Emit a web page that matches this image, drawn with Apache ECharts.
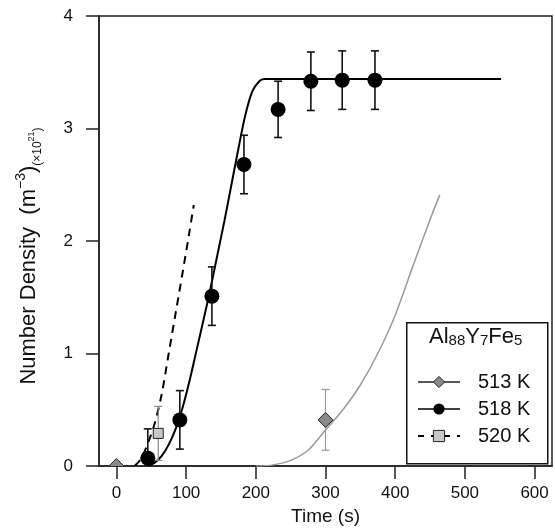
<!DOCTYPE html>
<html>
<head>
<meta charset="utf-8">
<script src="https://cdn.jsdelivr.net/npm/echarts@6/dist/echarts.min.js"></script>
<style>
  html, body { margin: 0; padding: 0; background: #fff; }
  #chart { width: 555px; height: 532px; }
</style>
</head>
<body>
<div id="chart"></div>
<script>
// measured points (time in s, density in 1e21 m^-3)
const t513 = [0, 300]
const n513 = [0.0, 0.41]
const e513 = [0, 0.27]

const t518 = [45, 91, 137, 183, 232, 279, 324, 371]
const n518 = [0.07, 0.41, 1.51, 2.68, 3.17, 3.42, 3.43, 3.43]
const e518 = [0.26, 0.26, 0.26, 0.26, 0.25, 0.26, 0.26, 0.26]

const t520 = [60]
const n520 = [0.29]
const e520 = [0.24]

// fitted curves
const fit513T = [200, 225, 250, 275, 300, 325, 350, 375, 400, 425, 450, 464]
const fit513N = [0, 0.01, 0.05, 0.14, 0.32, 0.5, 0.72, 1.0, 1.34, 1.77, 2.19, 2.41]

const fit518T = [45, 55, 65, 75, 85, 95, 105, 115, 125, 135, 145, 155, 165, 175, 185, 195, 205, 212, 552]
const fit518N = [0, 0.03, 0.09, 0.19, 0.33, 0.52, 0.76, 1.03, 1.3, 1.58, 1.88, 2.18, 2.5, 2.82, 3.12, 3.33, 3.42, 3.44, 3.44]

const fit520T = [26, 35, 45, 55, 65, 75, 85, 95, 105, 111]
const fit520N = [0, 0.06, 0.2, 0.38, 0.64, 1.0, 1.36, 1.72, 2.09, 2.32]

const xTicks = [0, 100, 200, 300, 400, 500, 600]

const FONT = 'Liberation Sans, Arial, sans-serif'
const zip = (a, b) => a.map((v, i) => [v, b[i]])
const errData = (t, n, e) => t.map((v, i) => [v, n[i] - e[i], n[i] + e[i]]).filter((d, i) => e[i] > 0)

function errorBar(color, width) {
  return function (params, api) {
    const lo = api.coord([api.value(0), api.value(1)])
    const hi = api.coord([api.value(0), api.value(2)])
    const cap = 4
    const style = { stroke: color, lineWidth: width }
    return {
      type: 'group',
      children: [
        { type: 'line', shape: { x1: lo[0], y1: lo[1], x2: hi[0], y2: hi[1] }, style },
        { type: 'line', shape: { x1: hi[0] - cap, y1: hi[1], x2: hi[0] + cap, y2: hi[1] }, style },
        { type: 'line', shape: { x1: lo[0] - cap, y1: lo[1], x2: lo[0] + cap, y2: lo[1] }, style }
      ]
    }
  }
}

// diamond marker drawn as custom shape so it is clipped by the plot area
function diamond(params, api) {
  const p = api.coord([api.value(0), api.value(1)])
  const r = 7.5
  return {
    type: 'polygon',
    shape: { points: [[p[0], p[1] - r], [p[0] + r, p[1]], [p[0], p[1] + r], [p[0] - r, p[1]]] },
    style: { fill: '#8a8a8a', stroke: '#222', lineWidth: 1 }
  }
}

const chart = echarts.init(document.getElementById('chart'))

const option = {
  animation: false,
  textStyle: { fontFamily: FONT },
  grid: {
    left: 99, right: 3, top: 16, bottom: 66,
    show: true, borderColor: '#222', borderWidth: 1.5
  },
  xAxis: {
    type: 'value',
    min: -25, max: 625,
    name: 'Time (s)',
    nameLocation: 'middle',
    nameGap: 32,
    nameTextStyle: { fontSize: 19, color: '#111', fontFamily: FONT },
    axisLine: { show: true, onZero: false, lineStyle: { color: '#222', width: 1.5 } },
    axisTick: { show: true, customValues: xTicks, length: 13, lineStyle: { color: '#222', width: 1.5 } },
    axisLabel: { customValues: xTicks, fontSize: 17, color: '#111', margin: 19, fontFamily: FONT },
    splitLine: { show: false }
  },
  yAxis: {
    type: 'value',
    min: 0, max: 4, interval: 1,
    name: 'Number Density  (m{sup|−3}){sub|(×10}{sup2|21}{sub|)}',
    nameLocation: 'middle',
    nameRotate: 90,
    nameGap: 55,
    nameTextStyle: {
      fontSize: 22, color: '#111', fontFamily: FONT, lineHeight: 30, padding: [0, 30, 0, 0],
      rich: {
        sup: { fontSize: 14, verticalAlign: 'top', lineHeight: 14, color: '#111', fontFamily: FONT },
        sup2: { fontSize: 9, verticalAlign: 'bottom', lineHeight: 10, padding: [0, 0, 8, 0], color: '#111', fontFamily: FONT },
        sub: { fontSize: 12, verticalAlign: 'bottom', lineHeight: 13, color: '#111', fontFamily: FONT }
      }
    },
    axisLine: { show: true, onZero: false, lineStyle: { color: '#222', width: 1.5 } },
    axisTick: { show: true, length: 13, lineStyle: { color: '#222', width: 1.5 } },
    axisLabel: { fontSize: 17, color: '#111', margin: 26, fontFamily: FONT },
    splitLine: { show: false }
  },
  legend: {
    orient: 'vertical',
    left: 412, top: 366, z: 20,
    itemWidth: 42, itemHeight: 14, itemGap: 5,
    textStyle: { fontSize: 20, lineHeight: 22, color: '#111', fontFamily: FONT, padding: [0, 0, 0, 13] },
    selectedMode: false,
    data: [
      { name: '513 K',
        itemStyle: { color: '#8a8a8a', borderColor: '#222', borderWidth: 1 },
        lineStyle: { color: '#222', width: 1.5, type: 'solid' } },
      { name: '518 K',
        itemStyle: { color: '#000', borderColor: '#000', borderWidth: 0 },
        lineStyle: { color: '#000', width: 1.5, type: 'solid' } },
      { name: '520 K',
        itemStyle: { color: '#c8c8c8', borderColor: '#222', borderWidth: 1 },
        lineStyle: { color: '#000', width: 2, type: [6, 7] } }
    ]
  },
  graphic: [
    { type: 'rect', left: 406, top: 322, z: 5,
      shape: { width: 141, height: 141 },
      style: { fill: '#fff', stroke: '#111', lineWidth: 1.5 } },
    { type: 'text', left: 429, top: 326, z: 6,
      style: {
        text: 'Al{s|88}Y{s|7}Fe{s|5}',
        font: '22px ' + FONT, fill: '#111',
        rich: {
          s: { fontSize: 15, verticalAlign: 'bottom', lineHeight: 12, fill: '#111' }
        }
      } }
  ],
  series: [
    {
      name: '513 K', type: 'line', data: zip(fit513T, fit513N),
      symbol: 'diamond', symbolSize: 13, showSymbol: false, smooth: 0.3,
      lineStyle: { color: '#9a9a9a', width: 1.5 },
      itemStyle: { color: '#8a8a8a' }, z: 2
    },
    {
      name: '518 K', type: 'line', data: zip(fit518T, fit518N),
      symbol: 'circle', symbolSize: 12, showSymbol: false, smooth: 0.3,
      lineStyle: { color: '#000', width: 2 },
      itemStyle: { color: '#000' }, z: 2
    },
    {
      name: '520 K', type: 'line', data: zip(fit520T, fit520N),
      symbol: 'rect', symbolSize: 9, showSymbol: false, smooth: 0.3,
      lineStyle: { color: '#000', width: 2, type: [8, 6] },
      itemStyle: { color: '#c8c8c8' }, z: 2
    },
    {
      name: 'err513', type: 'custom', renderItem: errorBar('#9a9a9a', 1.2), clip: true,
      data: errData(t513, n513, e513), z: 3, silent: true
    },
    {
      name: 'err518', type: 'custom', renderItem: errorBar('#111', 1.6), clip: true,
      data: errData(t518, n518, e518), z: 3, silent: true
    },
    {
      name: 'err520', type: 'custom', renderItem: errorBar('#888', 1.2), clip: true,
      data: errData(t520, n520, e520), z: 3, silent: true
    },
    {
      name: 'pts513', type: 'custom', renderItem: diamond, clip: true,
      data: zip(t513, n513), z: 4, silent: true
    },
    {
      name: 'pts518', type: 'scatter', data: zip(t518, n518),
      symbol: 'circle', symbolSize: 15,
      itemStyle: { color: '#000', opacity: 1 }, z: 4
    },
    {
      name: 'pts520', type: 'scatter', data: zip(t520, n520),
      symbol: 'rect', symbolSize: 10,
      itemStyle: { color: '#c8c8c8', borderColor: '#222', borderWidth: 1, opacity: 1 }, z: 4
    }
  ]
}

chart.setOption(option)
</script>
</body>
</html>
